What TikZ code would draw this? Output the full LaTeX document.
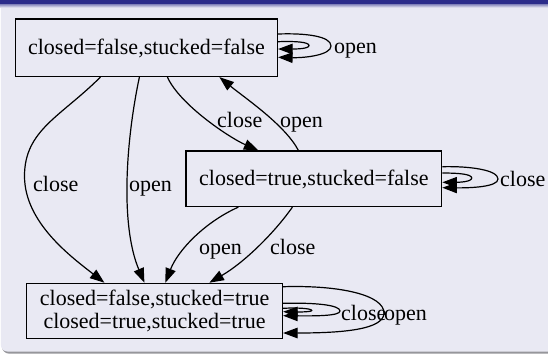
\documentclass[tikz,border=0pt]{standalone}
\usepackage{fontspec}
\setmainfont{Liberation Serif}
\usetikzlibrary{arrows.meta}
\definecolor{bodybg}{RGB}{233,233,243}
\definecolor{titlebg}{RGB}{44,44,138}
\definecolor{shadowgray}{RGB}{150,150,155}
\begin{document}
\begin{tikzpicture}[x=1pt,y=-1pt,
  every node/.style={font=\fontsize{22}{23.5}\selectfont},
  state/.style={draw, line width=1.2pt, rectangle, inner sep=0pt, align=center},
  onel/.style={text height=14.8pt, text depth=0.6pt},
  edge/.style={line width=1.2pt, -{Triangle[length=14.5pt,width=10.5pt]}},
  lbl/.style={inner sep=0pt, anchor=base west}]
\useasboundingbox (0,0) rectangle (548,354);
\clip (0,0) rectangle (548,354);
% block background
\fill[white] (0,0) rectangle (548,354);
\fill[shadowgray, rounded corners=7pt] (2,-20) rectangle (570,353.6);
\fill[bodybg, rounded corners=7pt] (0.8,-20) rectangle (570,351.6);
\fill[titlebg] (0,0) rectangle (548,4);
\shade[top color=titlebg!55!bodybg, bottom color=bodybg] (0,4) rectangle (548,7.5);
% states
\node[state, onel, minimum width=262pt, minimum height=57.5pt] (A) at (146.5,47.75) {closed=false,stucked=false};
\node[state, onel, minimum width=255.7pt, minimum height=55.5pt] (B) at (313.85,178.75) {closed=true,stucked=false};
\node[state, minimum width=255.8pt, minimum height=55.2pt] (C) at (154.6,310.9) {closed=false,stucked=true\\closed=true,stucked=true};
% edges A -> C
\draw[edge] ([xshift=85.5pt]A.south west) .. controls (61,116.5) and (24.5,130) .. (24.5,176)
  .. controls (24.5,222) and (70,256) .. ([xshift=78.3pt]C.north west);
\draw[edge] ([xshift=124.5pt]A.south west) .. controls (126,140) and (120,225) .. ([xshift=118.3pt]C.north west);
% A -> B and B -> A
\draw[edge] ([xshift=152.5pt]A.south west) .. controls (180,105) and (230,138) .. ([xshift=73pt]B.north west);
\draw[edge] ([xshift=113pt]B.north west) .. controls (285,125) and (245,98) .. ([xshift=204.5pt]A.south west);
% B -> C
\draw[edge] ([xshift=53pt]B.south west) .. controls (205,222) and (178,250) .. ([xshift=139.3pt]C.north west);
\draw[edge] ([xshift=107pt]B.south west) .. controls (275,232) and (245,262) .. ([xshift=183.3pt]C.north west);
% self loops A
\draw[edge] ([yshift=13.75pt]A.east) .. controls (305,33) and (331,36) .. (331,46)
  .. controls (331,55) and (305,58) .. ([yshift=-9.55pt]A.east);
\draw[edge] ([yshift=6.05pt]A.east) .. controls (295,41) and (309,42) .. (309,45.5)
  .. controls (309,49) and (295,49) .. ([yshift=-1.25pt]A.east);
% self loops B
\draw[edge] ([yshift=12.05pt]B.east) .. controls (470,166) and (498,170) .. (498,179)
  .. controls (498,187) and (470,188) .. ([yshift=-8.95pt]B.east);
\draw[edge] ([yshift=5.75pt]B.east) .. controls (458,173) and (471.7,174) .. (471.7,178)
  .. controls (471.7,182) and (458,182.3) .. ([yshift=-3.55pt]B.east);
% self loops C
\draw[edge] ([yshift=24.2pt]C.east) .. controls (340,285) and (384,295) .. (384,313)
  .. controls (384,330) and (340,333) .. ([yshift=-22.1pt]C.east);
\draw[edge] ([yshift=7.6pt]C.east) .. controls (315,302.5) and (340,305) .. (340,311)
  .. controls (340,316) and (315,316) .. ([yshift=-4.8pt]C.east);
\draw[edge] ([yshift=2.6pt]C.east) .. controls (298,307.5) and (311.7,308.5) .. (311.7,310.5)
  .. controls (311.7,312) and (298,312) .. ([yshift=-0.8pt]C.east);
% labels
\node[lbl] (lA) at (334,53) {open};
\node[lbl] (lAB) at (217,127.5) {close};
\node[lbl] (lBA) at (280,127.5) {open};
\node[lbl] (lAC1) at (33,191.5) {close};
\node[lbl] (lAC2) at (129,191.5) {open};
\node[lbl] (lB) at (500,186) {close};
\node[lbl] (lBC1) at (199,254) {open};
\node[lbl] (lBC2) at (270,254) {close};
\node[lbl] (lC1) at (341,320) {close};
\node[lbl] (lC2) at (384,320) {open};
\end{tikzpicture}
\end{document}
